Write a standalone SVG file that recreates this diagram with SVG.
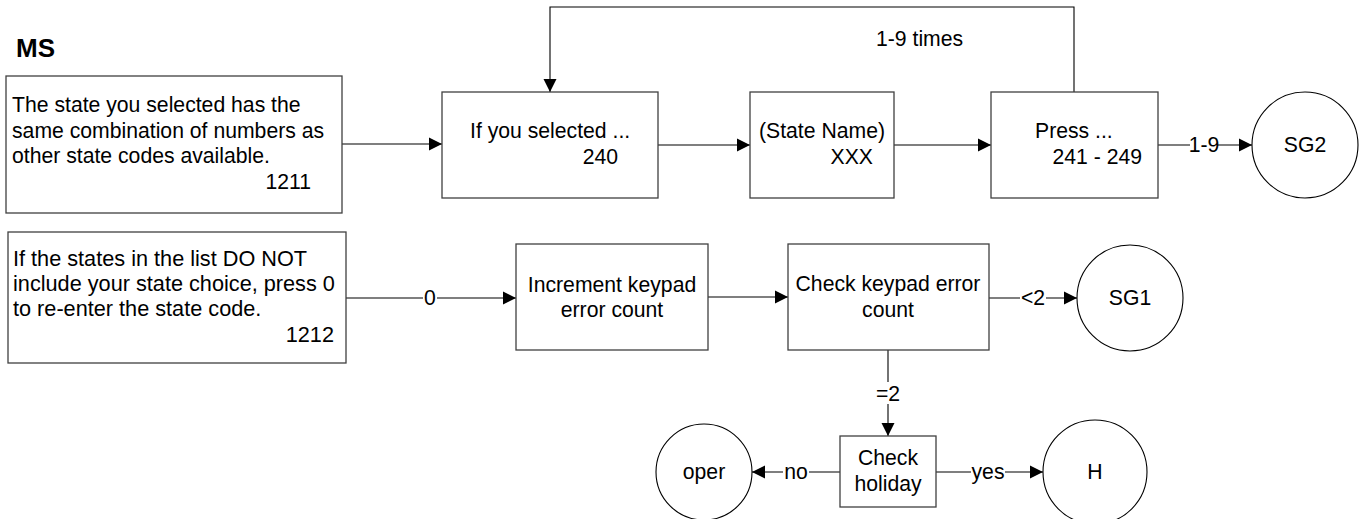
<svg xmlns="http://www.w3.org/2000/svg" width="1366" height="519" viewBox="0 0 1366 519">
<style>
text{font-family:"Liberation Sans",Arial,sans-serif;font-size:21.2px;fill:#000}
.box{fill:#fff;stroke:#404040;stroke-width:1.3}
.circ{fill:#fff;stroke:#000;stroke-width:1.1}
.edge{fill:none;stroke:#000;stroke-width:1.1}
.lbl{text-anchor:middle}
.lblbg{fill:#fff;stroke:none}
.mid{text-anchor:middle}
.end{text-anchor:end}
.big{font-size:21.7px}
</style>
<defs>
<marker id="arr" markerUnits="userSpaceOnUse" markerWidth="14" markerHeight="14" viewBox="0 0 14 14" refX="13" refY="7" orient="auto">
<path d="M0,0.5 L13,7 L0,13.5 Z" fill="#000"/>
</marker>
</defs>
<rect width="1366" height="519" fill="#fff"/>
<text x="16" y="57" style="font-weight:bold;font-size:26px">MS</text>

<g id="connectors">
<path class="edge" d="M342,144 H442" marker-end="url(#arr)"/>
<path class="edge" d="M658,145 H750" marker-end="url(#arr)"/>
<path class="edge" d="M894,145 H991" marker-end="url(#arr)"/>
<path class="edge" d="M1158,145 H1252" marker-end="url(#arr)"/>
<rect class="lblbg" x="1190" y="134" width="28" height="22"/>
<text class="lbl" x="1204" y="152">1-9</text>
<path class="edge" d="M1074,92 V7 H550 V92" marker-end="url(#arr)"/>
<text x="876" y="46">1-9 times</text>
<path class="edge" d="M346,298 H516" marker-end="url(#arr)"/>
<rect class="lblbg" x="423" y="287" width="14" height="22"/>
<text class="lbl" x="430" y="305">0</text>
<path class="edge" d="M708,297 H788" marker-end="url(#arr)"/>
<path class="edge" d="M989,298 H1077" marker-end="url(#arr)"/>
<rect class="lblbg" x="1020" y="287" width="26" height="22"/>
<text class="lbl" x="1033" y="305">&lt;2</text>
<path class="edge" d="M888,350 V436" marker-end="url(#arr)"/>
<rect class="lblbg" x="873" y="382" width="30" height="22"/>
<text class="lbl" x="888" y="401">=2</text>
<path class="edge" d="M840,472 H752" marker-end="url(#arr)"/>
<rect class="lblbg" x="783" y="461" width="26" height="22"/>
<text class="lbl" x="796" y="479">no</text>
<path class="edge" d="M936,472 H1043" marker-end="url(#arr)"/>
<rect class="lblbg" x="971" y="461" width="34" height="22"/>
<text class="lbl" x="988" y="479">yes</text>
</g>

<g id="n1211">
<rect class="box" x="6" y="76" width="336" height="137"/>
<text x="12" y="112">The state you selected has the</text>
<text x="12" y="138">same combination of numbers as</text>
<text x="12" y="163">other state codes available.</text>
<text class="end" x="311" y="189">1211</text>
</g>
<g id="n240">
<rect class="box" x="442" y="92" width="216" height="106"/>
<text x="470" y="138">If you selected ...</text>
<text class="end" x="618" y="164">240</text>
</g>
<g id="nState">
<rect class="box" x="750" y="92" width="144" height="106"/>
<text x="759" y="138">(State Name)</text>
<text class="end" x="873" y="164">XXX</text>
</g>
<g id="nPress">
<rect class="box" x="991" y="92" width="167" height="106"/>
<text x="1035" y="138">Press ...</text>
<text class="end" x="1142" y="164">241 - 249</text>
</g>
<g id="nSG2">
<circle class="circ" cx="1305" cy="145" r="53"/>
<text class="mid" x="1305" y="152">SG2</text>
</g>
<g id="n1212">
<rect class="box" x="8" y="232" width="338" height="131"/>
<text class="big" x="13" y="266">If the states in the list DO NOT</text>
<text class="big" x="13" y="291">include your state choice, press 0</text>
<text class="big" x="13" y="316">to re-enter the state code.</text>
<text class="big end" x="334" y="342">1212</text>
</g>
<g id="nIncrement">
<rect class="box" x="516" y="244" width="192" height="106"/>
<text class="mid" x="612" y="292">Increment keypad</text>
<text class="mid" x="612" y="317">error count</text>
</g>
<g id="nCheckErr">
<rect class="box" x="788" y="244" width="201" height="106"/>
<text class="mid" x="888" y="291">Check keypad error</text>
<text class="mid" x="888" y="317">count</text>
</g>
<g id="nSG1">
<circle class="circ" cx="1130" cy="298" r="53"/>
<text class="mid" x="1130" y="305">SG1</text>
</g>
<g id="nHoliday">
<rect class="box" x="840" y="436" width="96" height="71"/>
<text class="mid" x="888" y="465">Check</text>
<text class="mid" x="888" y="491">holiday</text>
</g>
<g id="nOper">
<circle class="circ" cx="704" cy="472" r="48"/>
<text class="mid" x="704" y="479">oper</text>
</g>
<g id="nH">
<circle class="circ" cx="1095" cy="472" r="52"/>
<text class="mid" x="1095" y="479">H</text>
</g>
</svg>
